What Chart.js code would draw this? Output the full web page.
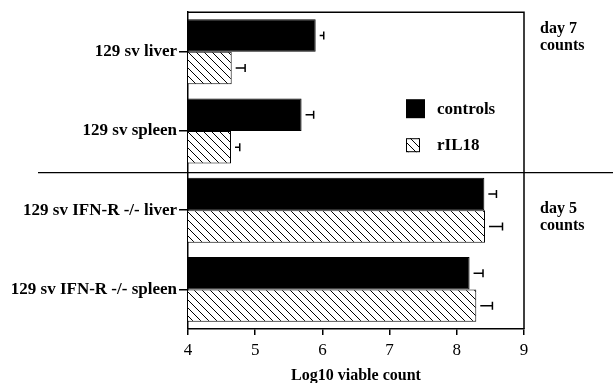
<!DOCTYPE html>
<html lang="en">
<head>
    <meta charset="UTF-8">
    <title>Log10 viable count</title>
    <style>
        body { margin: 0; background: #fff; }
        canvas { display: block; }
    </style>
</head>
<body>
    <canvas id="chart" width="613" height="383"></canvas>
    <script src="https://cdn.jsdelivr.net/npm/chart.js"></script>
    <script>
        // values
        const categories = ['129 sv liver', '129 sv spleen', '129 sv IFN-R -/- liver', '129 sv IFN-R -/- spleen'];
        const controls = [5.90, 5.69, 8.41, 8.19];
        const controlsErr = [0.12, 0.18, 0.18, 0.20];
        const rIL18 = [4.65, 4.64, 8.42, 8.29];
        const rIL18Err = [0.20, 0.13, 0.26, 0.24];
        const xTicks = [4, 5, 6, 7, 8, 9];
        const groupNotes = [['day 7', 'counts'], ['day 5', 'counts']];

        const serif = '"Liberation Serif", "Times New Roman", serif';

        // diagonal hatch for the rIL18 bars
        function makeHatch() {
            const c = document.createElement('canvas');
            c.width = 8; c.height = 8;
            const g = c.getContext('2d');
            g.fillStyle = '#fff';
            g.fillRect(0, 0, 8, 8);
            g.strokeStyle = '#000';
            g.lineWidth = 1;
            g.beginPath();
            g.moveTo(-1, -1); g.lineTo(9, 9);
            g.moveTo(-1, 7); g.lineTo(1, 9);
            g.moveTo(7, -1); g.lineTo(9, 1);
            g.stroke();
            return g.createPattern(c, 'repeat');
        }
        const hatch = makeHatch();

        const errors = [controlsErr, rIL18Err];

        const extras = {
            id: 'extras',
            afterDatasetsDraw(chart) {
                const ctx = chart.ctx;
                const x = chart.scales.x, y = chart.scales.y;
                const area = chart.chartArea;
                ctx.save();
                ctx.strokeStyle = '#000';
                ctx.lineWidth = 1.5;

                // error bars (positive side only)
                chart.data.datasets.forEach((ds, di) => {
                    chart.getDatasetMeta(di).data.forEach((bar, i) => {
                        const x1 = x.getPixelForValue(ds.data[i] + errors[di][i]);
                        ctx.beginPath();
                        ctx.moveTo(bar.x + 4, bar.y);
                        ctx.lineTo(x1, bar.y);
                        ctx.moveTo(x1, bar.y - 4);
                        ctx.lineTo(x1, bar.y + 4);
                        ctx.stroke();
                    });
                });

                // frame top and right
                ctx.lineWidth = 1.5;
                ctx.beginPath();
                ctx.moveTo(area.left, area.top);
                ctx.lineTo(area.right, area.top);
                ctx.lineTo(area.right, area.bottom);
                ctx.stroke();

                // separator between the two groups
                const sepY = (y.getPixelForValue(1) + y.getPixelForValue(2)) / 2 + 2;
                ctx.lineWidth = 1.2;
                ctx.beginPath();
                ctx.moveTo(38, sepY);
                ctx.lineTo(chart.width, sepY);
                ctx.stroke();

                // group notes on the right
                ctx.fillStyle = '#000';
                ctx.font = 'bold 16px ' + serif;
                ctx.textAlign = 'left';
                ctx.textBaseline = 'middle';
                const noteY = [area.top + 17, sepY + 36];
                groupNotes.forEach((lines, k) => {
                    lines.forEach((t, j) => ctx.fillText(t, area.right + 16, noteY[k] + j * 17));
                });

                // legend inside the plot
                const lx = area.left + 218, ly = area.top + 87;
                ctx.fillStyle = chart.data.datasets[0].backgroundColor;
                ctx.fillRect(lx, ly, 19, 19);
                ctx.fillStyle = chart.data.datasets[1].backgroundColor;
                ctx.fillRect(lx, ly + 39, 14, 14);
                ctx.lineWidth = 1;
                ctx.strokeRect(lx + 0.5, ly + 39.5, 13, 13);
                ctx.fillStyle = '#000';
                ctx.font = 'bold 17px ' + serif;
                ctx.fillText(chart.data.datasets[0].label, lx + 31, ly + 10);
                ctx.fillText(chart.data.datasets[1].label, lx + 31, ly + 46);
                ctx.restore();
            }
        };

        new Chart(document.getElementById('chart'), {
            type: 'bar',
            data: {
                labels: categories,
                datasets: [
                    {
                        label: 'controls',
                        data: controls,
                        backgroundColor: '#000',
                        borderColor: '#000',
                        borderWidth: 1
                    },
                    {
                        label: 'rIL18',
                        data: rIL18,
                        backgroundColor: hatch,
                        borderColor: '#000',
                        borderWidth: 1
                    }
                ]
            },
            options: {
                indexAxis: 'y',
                responsive: false,
                animation: false,
                layout: { padding: { top: 11, right: 89, left: 0, bottom: 0 } },
                categoryPercentage: 0.82,
                barPercentage: 1.0,
                plugins: {
                    legend: { display: false },
                    tooltip: { enabled: false }
                },
                scales: {
                    x: {
                        min: xTicks[0],
                        max: xTicks[xTicks.length - 1],
                        afterFit(s) { s.height = 54; },
                        afterBuildTicks(s) { s.ticks = xTicks.map(v => ({ value: v })); },
                        border: { color: '#000', width: 1.5 },
                        grid: { drawOnChartArea: false, drawTicks: true, tickLength: 6, color: '#000', lineWidth: 1.5 },
                        ticks: { color: '#000', padding: 5, font: { family: serif, size: 17 } },
                        title: {
                            display: true,
                            text: 'Log10 viable count',
                            color: '#000',
                            padding: { top: 0, bottom: -2 },
                            font: { family: serif, size: 16, weight: 'bold' }
                        }
                    },
                    y: {
                        afterFit(s) { s.width = 188; },
                        border: { color: '#000', width: 1.5 },
                        grid: { drawOnChartArea: false, offset: false, tickLength: 9, color: '#000', lineWidth: 1.5 },
                        ticks: { color: '#000', padding: 2, font: { family: serif, size: 17, weight: 'bold' } }
                    }
                }
            },
            plugins: [extras]
        });
    </script>
</body>
</html>
